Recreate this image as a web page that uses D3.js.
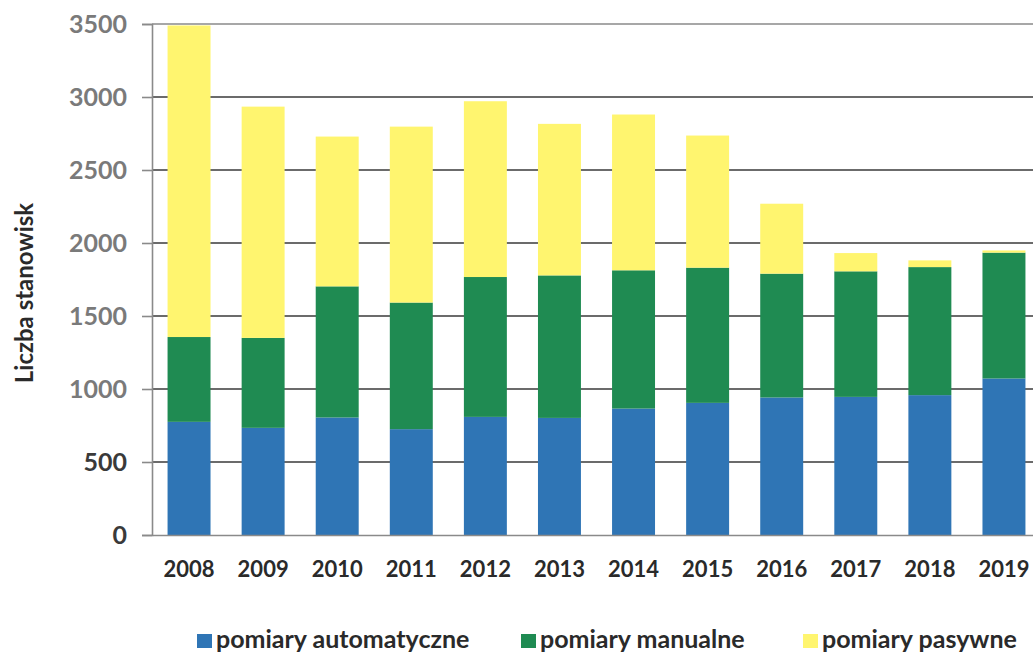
<!DOCTYPE html>
<html>
<head>
<meta charset="utf-8">
<script src="https://cdn.jsdelivr.net/npm/d3@7"></script>
<style>
  html, body { margin: 0; padding: 0; background: #fff; }
  svg { display: block; }
  text { font-family: Lato, "Open Sans", sans-serif; font-weight: 700; }
</style>
</head>
<body>
<svg id="chart" width="1033" height="656"></svg>
<script>
// Number of monitoring stations per year, by measurement type
const years = ["2008","2009","2010","2011","2012","2013","2014","2015","2016","2017","2018","2019"];
const automatyczne = [775, 734, 805, 725, 809, 802, 866, 905, 942, 946, 958, 1072];
const manualne     = [581, 616, 898, 867, 958, 976, 947, 926, 848, 860, 877, 862];
const pasywne      = [2134, 1584, 1026, 1205, 1204, 1038, 1067, 905, 479, 125, 46, 15];
const seriesNames  = ["pomiary automatyczne", "pomiary manualne", "pomiary pasywne"];
const yTicks       = [0, 500, 1000, 1500, 2000, 2500, 3000, 3500];

const colors = ["#2f75b5", "#1f8b52", "#fff56f"];

const svg = d3.select("#chart");
const plotLeft = 152, plotTop = 24, plotBottom = 535, plotRight = 1041;

const x = d3.scaleBand().domain(years).range([plotLeft, plotRight]).paddingInner(0.42).paddingOuter(0.21);
const y = d3.scaleLinear().domain([0, 3500]).range([plotBottom, plotTop]);

const rows = years.map((yr, i) => ({
  year: yr,
  [seriesNames[0]]: automatyczne[i],
  [seriesNames[1]]: manualne[i],
  [seriesNames[2]]: pasywne[i]
}));
const stacked = d3.stack().keys(seriesNames)(rows);

// horizontal gridlines
svg.append("g")
  .selectAll("line")
  .data(yTicks.filter(d => d > 0))
  .join("line")
  .attr("x1", plotLeft).attr("x2", plotRight)
  .attr("y1", d => y(d)).attr("y2", d => y(d))
  .attr("stroke", d => d === 3500 ? "#8a8a8a" : "#3a3a3a")
  .attr("stroke-width", 1.6);

// stacked bars
svg.append("g")
  .selectAll("g")
  .data(stacked)
  .join("g")
  .attr("fill", (d, i) => colors[i])
  .selectAll("rect")
  .data(d => d)
  .join("rect")
  .attr("x", d => x(d.data.year))
  .attr("width", x.bandwidth())
  .attr("y", d => y(d[1]))
  .attr("height", d => y(d[0]) - y(d[1]));

// y axis
const yAxis = svg.append("g")
  .attr("transform", `translate(${plotLeft},0)`)
  .call(d3.axisLeft(y).tickValues(yTicks).tickSize(10).tickPadding(15).tickFormat(d3.format("d")));
yAxis.select(".domain").attr("stroke", "#8a8a8a").attr("stroke-width", 1.6);
yAxis.selectAll(".tick line").attr("stroke", "#8a8a8a").attr("stroke-width", 1.6);
yAxis.selectAll(".tick text")
  .attr("font-size", 25)
  .attr("fill", d => d <= 500 ? "#3a3a3a" : "#7a7a7a");

// x axis
const xAxis = svg.append("g")
  .attr("transform", `translate(0,${plotBottom})`)
  .call(d3.axisBottom(x).tickSize(0).tickPadding(26));
xAxis.select(".domain").attr("stroke", "#8a8a8a").attr("stroke-width", 1.6);
xAxis.selectAll(".tick text").attr("font-size", 22).attr("fill", "#2a2a2a");

// y axis title
svg.append("text")
  .attr("transform", "translate(33,293) rotate(-90)")
  .attr("text-anchor", "middle")
  .attr("font-size", 24)
  .attr("fill", "#2a2a2a")
  .text("Liczba stanowisk");

// legend
const legendX = [216, 540, 822];
const legend = svg.append("g")
  .selectAll("g")
  .data(seriesNames)
  .join("g")
  .attr("transform", (d, i) => `translate(${legendX[i]},648)`);
legend.append("rect")
  .attr("x", -19).attr("y", -14).attr("width", 15).attr("height", 14)
  .attr("fill", (d, i) => colors[i]);
legend.append("text")
  .attr("x", 0).attr("y", 0)
  .attr("font-size", 25)
  .attr("fill", "#2a2a2a")
  .text(d => d);
</script>
</body>
</html>
